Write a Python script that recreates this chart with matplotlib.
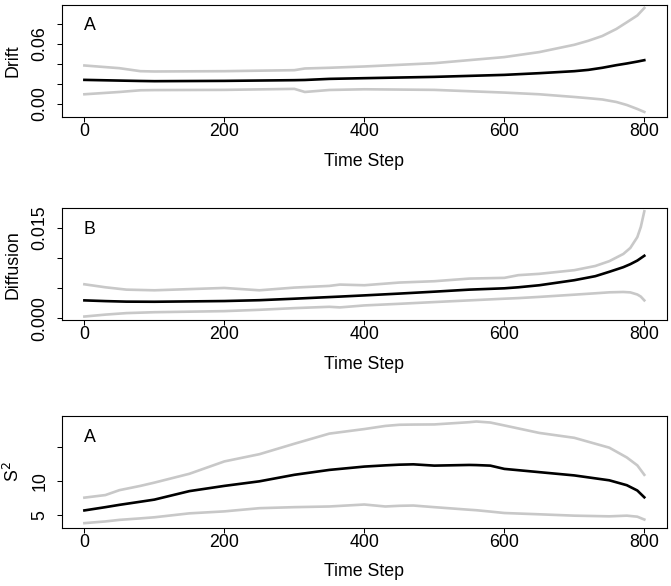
import numpy as np
import matplotlib
matplotlib.use('Agg')
import matplotlib.pyplot as plt

plt.rcParams['font.family'] = ['Liberation Sans', 'DejaVu Sans']
plt.rcParams['font.size'] = 12.8

# drift (panel A)
drift_x = [0, 50, 80, 100, 200, 300, 315, 350, 400, 500, 600, 650, 700, 720, 740, 760, 775,
           790, 800]
drift_mid = [0.0241, 0.0234, 0.0230, 0.0228, 0.0231, 0.0238, 0.0240, 0.0251, 0.0258, 0.0271,
             0.0291, 0.0308, 0.0328, 0.0341, 0.0362, 0.0388, 0.0405, 0.0424, 0.0438]
drift_hi = [0.0385, 0.0358, 0.0328, 0.0325, 0.0328, 0.0338, 0.0355, 0.0362, 0.0375, 0.0408,
            0.0469, 0.0519, 0.0592, 0.0632, 0.0680, 0.0750, 0.0817, 0.0885, 0.0960]
drift_lo = [0.0097, 0.0120, 0.0137, 0.0139, 0.0141, 0.0151, 0.0120, 0.0140, 0.0147, 0.0141,
            0.0114, 0.0097, 0.0070, 0.0058, 0.0045, 0.0020, -0.0010, -0.0050, -0.0080]

# diffusion (panel B)
diff_x = [0, 30, 60, 100, 200, 250, 300, 350, 365, 400, 450, 500, 550, 600, 620, 650, 700,
          730, 750, 770, 780, 790, 795, 800]
diff_mid = [0.00297, 0.00285, 0.00276, 0.00274, 0.00286, 0.00300, 0.00325, 0.00352, 0.00360,
            0.00380, 0.00410, 0.00442, 0.00476, 0.00498, 0.00515, 0.00549, 0.00633, 0.00700,
            0.00773, 0.00850, 0.00900, 0.00960, 0.01000, 0.01040]
diff_hi = [0.00565, 0.00515, 0.00476, 0.00465, 0.00504, 0.00465, 0.00510, 0.00538, 0.00560,
           0.00549, 0.00594, 0.00616, 0.00660, 0.00672, 0.00717, 0.00739, 0.00800, 0.00870,
           0.00950, 0.01070, 0.01170, 0.01350, 0.01520, 0.01780]
diff_lo = [0.00028, 0.00060, 0.00085, 0.00100, 0.00118, 0.00140, 0.00168, 0.00190, 0.00180,
           0.00213, 0.00240, 0.00269, 0.00297, 0.00325, 0.00335, 0.00355, 0.00392, 0.00415,
           0.00431, 0.00437, 0.00430, 0.00395, 0.00360, 0.00297]

# S^2 (panel C)
s2_x = [0, 30, 50, 80, 100, 150, 200, 250, 300, 350, 400, 430, 450, 470, 500, 550, 560, 580,
        600, 650, 700, 750, 775, 790, 800]
s2_mid = [5.67, 6.15, 6.49, 6.95, 7.26, 8.51, 9.28, 9.95, 10.91, 11.63, 12.12, 12.30, 12.40,
          12.45, 12.26, 12.36, 12.34, 12.26, 11.78, 11.30, 10.82, 10.10, 9.38, 8.60, 7.60]
s2_hi = [7.55, 7.93, 8.65, 9.28, 9.76, 11.06, 12.88, 13.94, 15.48, 16.97, 17.64, 18.10, 18.27,
         18.30, 18.32, 18.65, 18.75, 18.60, 18.17, 17.07, 16.35, 14.90, 13.46, 12.30, 10.91]
s2_lo = [3.80, 4.05, 4.28, 4.50, 4.66, 5.24, 5.53, 6.00, 6.15, 6.25, 6.54, 6.25, 6.35, 6.39,
         6.15, 5.77, 5.70, 5.50, 5.29, 5.10, 4.90, 4.80, 4.90, 4.75, 4.33]

xticks = [0, 200, 400, 600, 800]

panels = [
    (drift_x, drift_mid, drift_hi, drift_lo, 'Drift', 'A', (-0.0127, 0.0993),
     [0, 0.02, 0.04, 0.06, 0.08], ['0.00', '', '', '0.06', ''], [0.0924, 0.8009, 0.9012, 0.1911]),
    (diff_x, diff_mid, diff_hi, diff_lo, 'Diffusion', 'B', (-0.0003, 0.0183),
     [0, 0.005, 0.010, 0.015], ['0.000', '', '', '0.015'], [0.0924, 0.4539, 0.9012, 0.1906]),
    (s2_x, s2_mid, s2_hi, s2_lo, r'S$^2$', 'A', (3.13, 19.56),
     [5, 10, 15], ['5', '10', ''], [0.0924, 0.0995, 0.9012, 0.1906]),
]

fig = plt.figure(figsize=(6.71, 5.86), dpi=100)
grey = '#c8c8c8'

for x, mid, hi, lo, ylab, letter, ylim, yt, ytl, pos in panels:
    ax = fig.add_axes(pos)
    ax.plot(x, hi, color=grey, lw=1.9)
    ax.plot(x, lo, color=grey, lw=1.9)
    ax.plot(x, mid, color='black', lw=1.9)
    ax.set_xlim(-32, 832)
    ax.set_ylim(*ylim)
    ax.set_xticks(xticks)
    ax.set_xticklabels([str(t) for t in xticks])
    ax.set_yticks(yt)
    ax.set_yticklabels(ytl, rotation=90, va='center')
    ax.tick_params(axis='both', length=5.3 / 1.389, width=0.75, direction='out')
    ax.tick_params(axis='x', pad=0.8)
    ax.tick_params(axis='y', pad=6)
    for s in ax.spines.values():
        s.set_linewidth(0.8)
    ax.set_xlabel('Time Step', va='center')
    ax.xaxis.set_label_coords(0.5, -0.396)
    ax.set_ylabel(ylab, va='center')
    ax.yaxis.set_label_coords(-0.081, 0.5)
    ax.text(0.046, 0.81, letter, transform=ax.transAxes, ha='center', va='center')

fig.savefig('out.png', dpi=100)
